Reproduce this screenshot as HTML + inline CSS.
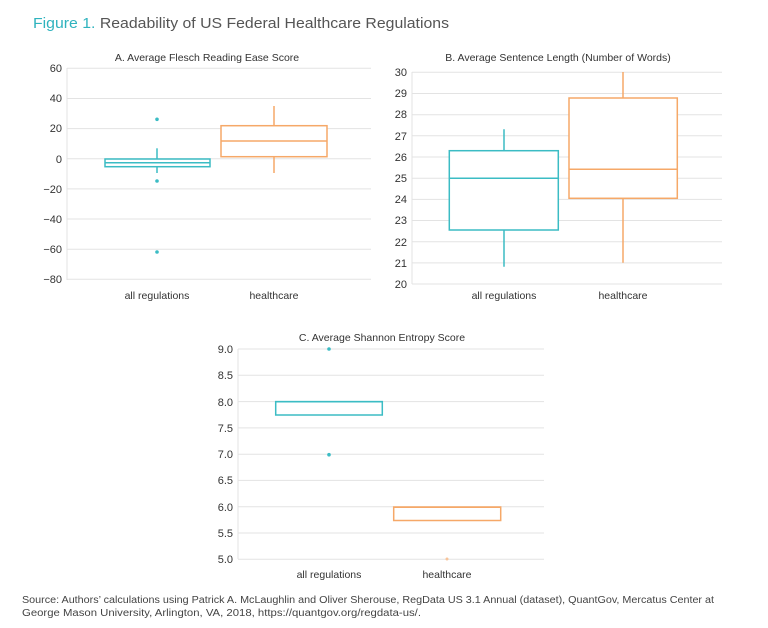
<!DOCTYPE html>
<html><head><meta charset="utf-8"><style>
html,body{margin:0;padding:0;background:#fff;}
svg{display:block;}
text{font-family:"Liberation Sans",sans-serif;}
</style></head><body>
<svg width="768" height="628" viewBox="0 0 768 628" xmlns="http://www.w3.org/2000/svg">
<text x="33" y="28" font-size="15" textLength="416" lengthAdjust="spacingAndGlyphs"><tspan fill="#2fb3be">Figure 1.</tspan><tspan fill="#555"> Readability of US Federal Healthcare Regulations</tspan></text>

<!-- Chart A -->
<g stroke="#e3e3e3" stroke-width="1">
<line x1="67" x2="371" y1="68.3" y2="68.3"/><line x1="67" x2="371" y1="98.5" y2="98.5"/><line x1="67" x2="371" y1="128.6" y2="128.6"/><line x1="67" x2="371" y1="158.8" y2="158.8"/><line x1="67" x2="371" y1="188.9" y2="188.9"/><line x1="67" x2="371" y1="219" y2="219"/><line x1="67" x2="371" y1="249.2" y2="249.2"/><line x1="67" x2="371" y1="279.3" y2="279.3"/>
<line x1="67" x2="67" y1="68" y2="280"/>
</g>
<g font-size="11" fill="#333" text-anchor="end">
<text x="62" y="72">60</text><text x="62" y="102">40</text><text x="62" y="132">20</text><text x="62" y="163">0</text><text x="62" y="193">−20</text><text x="62" y="223">−40</text><text x="62" y="253">−60</text><text x="62" y="283">−80</text>
</g>
<text x="207" y="61" font-size="10.5" fill="#333" text-anchor="middle">A. Average Flesch Reading Ease Score</text>
<g stroke="#3bbcc4" stroke-width="1.5" fill="none">
<line x1="157" x2="157" y1="148.3" y2="173"/>
<rect x="105" y="159" width="105" height="7.7" fill="#fff"/>
<line x1="105" x2="210" y1="162.7" y2="162.7"/>
</g>
<g fill="#3bbcc4"><circle cx="157" cy="119.3" r="1.8"/><circle cx="157" cy="181" r="1.8"/><circle cx="157" cy="252" r="1.8"/></g>
<g stroke="#f6a868" stroke-width="1.5" fill="none">
<line x1="274" x2="274" y1="106" y2="173"/>
<rect x="221" y="125.7" width="106" height="31" fill="#fff"/>
<line x1="221" x2="327" y1="141" y2="141"/>
</g>
<g font-size="10.5" fill="#333" text-anchor="middle"><text x="157" y="299">all regulations</text><text x="274" y="299">healthcare</text></g>

<!-- Chart B -->
<g stroke="#e3e3e3" stroke-width="1">
<line x1="412" x2="722" y1="72.3" y2="72.3"/><line x1="412" x2="722" y1="93.5" y2="93.5"/><line x1="412" x2="722" y1="114.7" y2="114.7"/><line x1="412" x2="722" y1="135.8" y2="135.8"/><line x1="412" x2="722" y1="157" y2="157"/><line x1="412" x2="722" y1="178.2" y2="178.2"/><line x1="412" x2="722" y1="199.4" y2="199.4"/><line x1="412" x2="722" y1="220.5" y2="220.5"/><line x1="412" x2="722" y1="241.7" y2="241.7"/><line x1="412" x2="722" y1="262.9" y2="262.9"/><line x1="412" x2="722" y1="284" y2="284"/>
<line x1="412" x2="412" y1="72" y2="284"/>
</g>
<g font-size="11" fill="#333" text-anchor="end">
<text x="407" y="76">30</text><text x="407" y="97">29</text><text x="407" y="118">28</text><text x="407" y="140">27</text><text x="407" y="161">26</text><text x="407" y="182">25</text><text x="407" y="203">24</text><text x="407" y="224">23</text><text x="407" y="246">22</text><text x="407" y="267">21</text><text x="407" y="288">20</text>
</g>
<text x="558" y="61" font-size="10.5" fill="#333" text-anchor="middle">B. Average Sentence Length (Number of Words)</text>
<g stroke="#3bbcc4" stroke-width="1.5" fill="none">
<line x1="504" x2="504" y1="129.3" y2="266.7"/>
<rect x="449.3" y="150.7" width="109" height="79.3" fill="#fff"/>
<line x1="449.3" x2="558.3" y1="178.3" y2="178.3"/>
</g>
<g stroke="#f6a868" stroke-width="1.5" fill="none">
<line x1="623" x2="623" y1="72" y2="262.7"/>
<rect x="569" y="98" width="108.3" height="100.3" fill="#fff"/>
<line x1="569" x2="677.3" y1="169.3" y2="169.3"/>
</g>
<g font-size="10.5" fill="#333" text-anchor="middle"><text x="504" y="299">all regulations</text><text x="623" y="299">healthcare</text></g>

<!-- Chart C -->
<g stroke="#e3e3e3" stroke-width="1">
<line x1="238" x2="544" y1="349" y2="349"/><line x1="238" x2="544" y1="375.3" y2="375.3"/><line x1="238" x2="544" y1="401.6" y2="401.6"/><line x1="238" x2="544" y1="427.9" y2="427.9"/><line x1="238" x2="544" y1="454.2" y2="454.2"/><line x1="238" x2="544" y1="480.4" y2="480.4"/><line x1="238" x2="544" y1="506.7" y2="506.7"/><line x1="238" x2="544" y1="533" y2="533"/><line x1="238" x2="544" y1="559.3" y2="559.3"/>
<line x1="238" x2="238" y1="349" y2="559"/>
</g>
<g font-size="11" fill="#333" text-anchor="end">
<text x="233" y="353">9.0</text><text x="233" y="379">8.5</text><text x="233" y="406">8.0</text><text x="233" y="432">7.5</text><text x="233" y="458">7.0</text><text x="233" y="484">6.5</text><text x="233" y="511">6.0</text><text x="233" y="537">5.5</text><text x="233" y="563">5.0</text>
</g>
<text x="382" y="341" font-size="10.5" fill="#333" text-anchor="middle">C. Average Shannon Entropy Score</text>
<rect x="275.7" y="401.6" width="106.6" height="13.4" fill="#fff" stroke="#3bbcc4" stroke-width="1.5"/>
<line x1="275.7" x2="382.3" y1="401.8" y2="401.8" stroke="#3bbcc4" stroke-width="1.5"/>
<g fill="#3bbcc4"><circle cx="329" cy="349" r="1.8"/><circle cx="329" cy="454.7" r="1.8"/></g>
<rect x="393.7" y="507" width="107" height="13.5" fill="#fff" stroke="#f6a868" stroke-width="1.5"/>
<line x1="393.7" x2="500.7" y1="507.2" y2="507.2" stroke="#f6a868" stroke-width="1.5"/>
<circle cx="447" cy="559" r="1.5" fill="#f8c49a"/>
<g font-size="10.5" fill="#333" text-anchor="middle"><text x="329" y="578">all regulations</text><text x="447" y="578">healthcare</text></g>

<g font-size="10" fill="#444">
<text x="22" y="603" textLength="692" lengthAdjust="spacingAndGlyphs">Source: Authors’ calculations using Patrick A. McLaughlin and Oliver Sherouse, RegData US 3.1 Annual (dataset), QuantGov, Mercatus Center at</text>
<text x="22" y="616" textLength="399" lengthAdjust="spacingAndGlyphs">George Mason University, Arlington, VA, 2018, https://quantgov.org/regdata-us/.</text>
</g>
</svg>
</body></html>
